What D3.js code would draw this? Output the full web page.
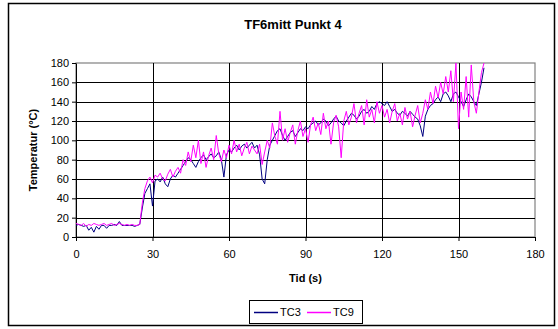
<!DOCTYPE html>
<html>
<head>
<meta charset="utf-8">
<script src="https://cdn.jsdelivr.net/npm/d3@7"></script>
<style>
  body { margin: 0; background: #fff; }
  text { font-family: "Liberation Sans", Arial, sans-serif; }
</style>
</head>
<body>
<svg id="drawing_region"></svg>
<script>
// sampling step (s)
const step = 1;

const tc3 = [
    12, 13, 12, 11, 12, 7, 10, 5, 11, 8,
    12, 12, 9, 12, 12, 13, 12, 16, 12, 12,
    12, 12, 12, 11, 12, 13, 30, 45, 50, 55,
    32, 58, 60, 57, 62, 55, 52, 60, 64, 62,
    66, 70, 74, 78, 82, 80, 76, 72, 78, 82,
    85, 80, 83, 86, 82, 84, 88, 80, 62, 85,
    90, 88, 92, 95, 90, 94, 96, 92, 95, 98,
    92, 95, 85, 60, 55, 80, 95, 100, 105, 110,
    112, 105, 100, 104, 108, 110, 104, 108, 112, 110,
    114, 112, 116, 118, 120, 116, 118, 122, 120, 115,
    118, 122, 125, 120, 118, 115, 120, 124, 128, 126,
    122, 125, 130, 132, 128, 130, 135, 132, 138, 140,
    138, 136, 140, 135, 130, 132, 128, 126, 130, 128,
    125, 130, 127, 124, 122, 115, 104, 125, 132, 136,
    138, 142, 145, 140, 148, 150, 146, 140, 148, 150,
    145, 140, 135, 142, 148, 145, 140, 136, 148, 160,
    175
];

const tc9 = [
    14, 13, 12, 14, 11, 13, 12, 14, 13, 12,
    13, 14, 12, 13, 14, 12, 13, 14, 13, 12,
    13, 12, 13, 12, 12, 13, 35, 50, 58, 62,
    56, 64, 62, 66, 60, 58, 65, 70, 62, 68,
    72, 66, 80, 74, 88, 78, 95, 82, 100, 76,
    88, 72, 84, 92, 80, 105, 86, 78, 90, 82,
    95, 86, 100, 88, 96, 84, 92, 98, 86, 94,
    90, 86, 96, 75, 88, 100, 92, 118, 104, 96,
    130, 100, 112, 98, 108, 116, 96, 110, 120, 104,
    112, 98, 116, 124, 110, 118, 106, 128, 112, 120,
    96, 118, 126, 114, 82, 120, 130, 116, 124, 138,
    118, 128, 136, 116, 142, 124, 132, 118, 140, 128,
    136, 124, 132, 118, 130, 138, 120, 128, 116, 134,
    122, 130, 114, 126, 136, 118, 128, 142, 132, 150,
    138, 156, 144, 160, 148, 166, 150, 172, 140, 180,
    112, 150, 132, 166, 124, 178, 140, 128, 150, 170,
    180
];

const series_names = ['TC3', 'TC9'];
const series_colors = ['#000080', '#ff00ff'];
const xticks = [0, 30, 60, 90, 120, 150, 180];
const yticks = [0, 20, 40, 60, 80, 100, 120, 140, 160, 180];

const W = 558, H = 329;
const plot = {left: 76, right: 535, top: 63, bottom: 237};

const svg = d3.select('#drawing_region')
    .attr('width', W)
    .attr('height', H);

// outer frame
svg.append('rect')
    .attr('x', 8.5).attr('y', 3.5)
    .attr('width', 546).attr('height', 322)
    .attr('fill', '#fff')
    .attr('stroke', '#000')
    .attr('stroke-width', 1.5);

const xscale = d3.scaleLinear().domain([0, 180]).range([plot.left, plot.right]);
const yscale = d3.scaleLinear().domain([0, 180]).range([plot.bottom, plot.top]);

// plot area border
svg.append('rect')
    .attr('x', plot.left).attr('y', plot.top)
    .attr('width', plot.right - plot.left).attr('height', plot.bottom - plot.top)
    .attr('fill', '#fff')
    .attr('stroke', '#808080')
    .attr('stroke-width', 1.2);

// gridlines
svg.append('g').selectAll('line')
    .data(yticks.slice(1, -1))
    .join('line')
    .attr('x1', plot.left).attr('x2', plot.right)
    .attr('y1', d => Math.round(yscale(d)) + 0.5)
    .attr('y2', d => Math.round(yscale(d)) + 0.5)
    .attr('stroke', '#000').attr('stroke-width', 1);

svg.append('g').selectAll('line')
    .data(xticks.slice(1, -1))
    .join('line')
    .attr('y1', plot.top).attr('y2', plot.bottom)
    .attr('x1', d => Math.round(xscale(d)) + 0.5)
    .attr('x2', d => Math.round(xscale(d)) + 0.5)
    .attr('stroke', '#000').attr('stroke-width', 1);

// axes
const xaxis = d3.axisBottom(xscale).tickValues(xticks).tickSize(4).tickSizeOuter(0);
const yaxis = d3.axisLeft(yscale).tickValues(yticks).tickSize(4).tickSizeOuter(0);

const xg = svg.append('g')
    .attr('transform', `translate(0, ${plot.bottom})`)
    .call(xaxis);
const yg = svg.append('g')
    .attr('transform', `translate(${plot.left}, 0)`)
    .call(yaxis);

[xg, yg].forEach(g => {
    g.select('.domain').attr('stroke', '#000').attr('stroke-width', 1);
    g.selectAll('.tick line').attr('stroke', '#000');
    g.selectAll('.tick text')
        .attr('fill', '#000')
        .style('font-size', '11px')
        .style('font-family', '"Liberation Sans", Arial, sans-serif');
});
xg.selectAll('.tick text').attr('dy', '1.25em');
yg.selectAll('.tick text').attr('x', -7);

// series
const line = d3.line()
    .x((d, i) => xscale(i * step))
    .y(d => yscale(d));

[tc3, tc9].forEach((s, k) => {
    svg.append('path')
        .datum(s)
        .attr('d', line)
        .attr('fill', 'none')
        .attr('stroke', series_colors[k])
        .attr('stroke-width', 1)
        .attr('stroke-linejoin', 'round');
});

// title and labels
svg.append('text')
    .attr('x', 293).attr('y', 29)
    .attr('text-anchor', 'middle')
    .style('font-size', '13px')
    .style('font-weight', 'bold')
    .text('TF6mitt Punkt 4');

svg.append('text')
    .attr('x', (plot.left + plot.right) / 2).attr('y', 282)
    .attr('text-anchor', 'middle')
    .style('font-size', '11px')
    .style('font-weight', 'bold')
    .text('Tid (s)');

svg.append('text')
    .attr('transform', `translate(37, ${(plot.top + plot.bottom) / 2}) rotate(-90)`)
    .attr('text-anchor', 'middle')
    .style('font-size', '11px')
    .style('font-weight', 'bold')
    .text('Temperatur (°C)');

// legend
const legend = svg.append('g').attr('transform', 'translate(249, 300)');
legend.append('rect')
    .attr('x', 0.5).attr('y', 0.5)
    .attr('width', 113).attr('height', 23)
    .attr('fill', '#fff')
    .attr('stroke', '#000')
    .attr('stroke-width', 1);

series_names.forEach((name, k) => {
    const lx = 5 + k * 53;
    legend.append('line')
        .attr('x1', lx).attr('x2', lx + 24)
        .attr('y1', 12.5).attr('y2', 12.5)
        .attr('stroke', series_colors[k])
        .attr('stroke-width', 1.5);
    legend.append('text')
        .attr('x', lx + 26).attr('y', 16)
        .style('font-size', '11px')
        .text(name);
});
</script>
</body>
</html>
